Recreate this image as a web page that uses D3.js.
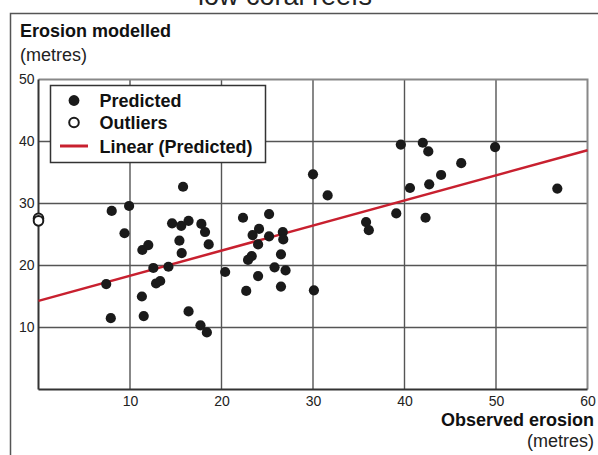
<!DOCTYPE html>
<html>
<head>
<meta charset="utf-8">
<script src="https://cdn.jsdelivr.net/npm/d3@7"></script>
<style>
  body { margin: 0; background: #fff; }
  svg { display: block; font-family: "Liberation Sans", Arial, sans-serif; }
</style>
</head>
<body>
<svg width="598" height="455"></svg>
<script>
// observed erosion (x) vs erosion modelled (y), metres
var predictedX = [15.8, 8.0, 9.9, 9.4, 14.6, 15.6, 16.4, 17.8, 18.2, 18.6, 15.4, 15.65, 11.35, 12.0, 12.55, 14.2,
  7.4, 12.85, 13.3, 11.3, 7.9, 11.5, 16.4, 17.7, 18.4,
  30.0, 31.6, 22.35, 25.2, 24.1, 23.4, 25.2, 26.7, 26.75, 24.0, 23.3, 22.9, 26.5, 20.4, 24.0, 25.8, 27.0, 26.5, 22.7, 30.1,
  39.6, 42.0, 42.6, 49.9, 46.2, 44.0, 42.7, 40.6, 56.7, 39.1, 42.3, 35.8, 36.1];
var predictedY = [32.7, 28.8, 29.6, 25.2, 26.8, 26.4, 27.2, 26.7, 25.4, 23.4, 24.0, 22.0, 22.5, 23.3, 19.6, 19.8,
  17.0, 17.1, 17.5, 15.0, 11.5, 11.85, 12.6, 10.35, 9.2,
  34.7, 31.3, 27.7, 28.3, 25.9, 24.9, 24.7, 25.4, 24.2, 23.4, 21.5, 20.9, 21.8, 18.95, 18.3, 19.7, 19.2, 16.6, 15.9, 16.0,
  39.5, 39.8, 38.4, 39.1, 36.5, 34.6, 33.1, 32.5, 32.4, 28.4, 27.7, 27.0, 25.7];
var outlierX = [0, 0];
var outlierY = [27.6, 27.2];
// linear trend (Predicted), read at the two ends
var trendX = [0, 60];
var trendY = [14.3, 38.6];
var xTicks = [10, 20, 30, 40, 50, 60];
var yTicks = [10, 20, 30, 40, 50];
var legendLabels = ['Predicted', 'Outliers', 'Linear (Predicted)'];

var svg = d3.select('svg');
var x = d3.scaleLinear().domain([0, 60]).range([38.5, 587.5]);
var y = d3.scaleLinear().domain([0, 50]).range([389.5, 79.5]);

// cut-off heading above the frame
svg.append('text')
  .attr('x', 198).attr('y', 5)
  .style('font-size', '27px')
  .attr('fill', '#222')
  .text('low coral reefs');

// outer frame
svg.append('path')
  .attr('d', 'M10.5,455V13.5H598')
  .attr('fill', 'none')
  .attr('stroke', '#555')
  .attr('stroke-width', 1.5);

// axis titles
svg.append('text').attr('x', 20).attr('y', 37)
  .style('font-size', '18px').style('font-weight', 'bold').attr('fill', '#111')
  .text('Erosion modelled');
svg.append('text').attr('x', 20).attr('y', 61)
  .style('font-size', '18px').attr('fill', '#222')
  .text('(metres)');
svg.append('text').attr('x', 594).attr('y', 426).attr('text-anchor', 'end')
  .style('font-size', '18px').style('font-weight', 'bold').attr('fill', '#111')
  .text('Observed erosion');
svg.append('text').attr('x', 594).attr('y', 447).attr('text-anchor', 'end')
  .style('font-size', '18px').attr('fill', '#222')
  .text('(metres)');

// grid
var grid = svg.append('g');
grid.selectAll('.vg').data(xTicks.slice(0, -1)).enter().append('line')
  .attr('x1', d => x(d)).attr('x2', d => x(d))
  .attr('y1', y(0)).attr('y2', y(50))
  .attr('stroke', '#555').attr('stroke-width', 1.4);
grid.selectAll('.hg').data(yTicks.slice(0, -1)).enter().append('line')
  .attr('x1', x(0)).attr('x2', x(60))
  .attr('y1', d => y(d)).attr('y2', d => y(d))
  .attr('stroke', '#555').attr('stroke-width', 1.4);
// top and right border
grid.append('path')
  .attr('d', 'M' + x(0) + ',' + y(50) + 'H' + x(60) + 'V' + y(0))
  .attr('fill', 'none').attr('stroke', '#888').attr('stroke-width', 2);

// axes
var xAxis = svg.append('g').attr('transform', 'translate(0,' + y(0) + ')')
  .call(d3.axisBottom(x).tickValues(xTicks).tickSize(0).tickPadding(7));
var yAxis = svg.append('g').attr('transform', 'translate(' + x(0) + ',0)')
  .call(d3.axisLeft(y).tickValues(yTicks).tickSize(0).tickPadding(4));
[xAxis, yAxis].forEach(function(a) {
  a.select('.domain').attr('stroke', '#333').attr('stroke-width', 2);
  a.selectAll('text').style('font-size', '14px').attr('fill', '#222')
    .style('font-family', '"Liberation Sans", Arial, sans-serif');
});
xAxis.select('.domain').attr('d', 'M' + x(0) + ',0H' + x(60));
yAxis.select('.domain').attr('d', 'M0,' + y(0) + 'V' + y(50));
yAxis.selectAll('text').attr('dy', '0.32em');

// trend line
svg.append('line')
  .attr('x1', x(trendX[0])).attr('y1', y(trendY[0]))
  .attr('x2', x(trendX[1])).attr('y2', y(trendY[1]))
  .attr('stroke', '#c8202f').attr('stroke-width', 2.5);

// points
svg.append('g').selectAll('circle').data(predictedX).enter().append('circle')
  .attr('cx', d => x(d))
  .attr('cy', (d, i) => y(predictedY[i]))
  .attr('r', 5.1)
  .attr('fill', '#1a1a1a');

svg.append('g').selectAll('circle').data(outlierX).enter().append('circle')
  .attr('cx', d => x(d))
  .attr('cy', (d, i) => y(outlierY[i]))
  .attr('r', 4.8)
  .attr('fill', '#fff')
  .attr('stroke', '#1a1a1a')
  .attr('stroke-width', 2);

// legend
var legend = svg.append('g');
legend.append('rect')
  .attr('x', 50.5).attr('y', 85.5).attr('width', 215).attr('height', 77)
  .attr('fill', '#fff').attr('stroke', '#333').attr('stroke-width', 1.5);
var rowsY = [100.5, 122.5, 146];
legend.append('circle').attr('cx', 74).attr('cy', rowsY[0]).attr('r', 5.4).attr('fill', '#1a1a1a');
legend.append('circle').attr('cx', 74).attr('cy', rowsY[1]).attr('r', 4.8)
  .attr('fill', '#fff').attr('stroke', '#1a1a1a').attr('stroke-width', 2);
legend.append('line').attr('x1', 60).attr('x2', 88).attr('y1', rowsY[2]).attr('y2', rowsY[2])
  .attr('stroke', '#c8202f').attr('stroke-width', 3);
legend.selectAll('.lt').data(legendLabels).enter().append('text')
  .attr('x', 99.5)
  .attr('y', (d, i) => rowsY[i] + 6.5)
  .style('font-size', '18px').style('font-weight', 'bold').attr('fill', '#111')
  .text(d => d);
</script>
</body>
</html>
